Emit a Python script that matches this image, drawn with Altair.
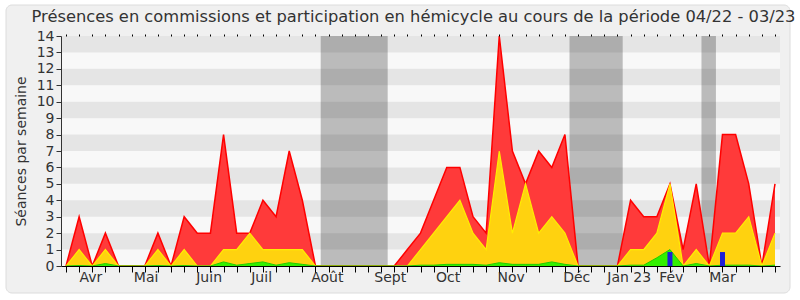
import altair as alt
import pandas as pd

# ---- data (weekly index 0..54, period 04/22 - 03/23) ----
weeks = list(range(55))
commissions = [0, 3, 0, 2, 0, 0, 0, 2, 0, 3, 2, 2, 8, 2, 2, 4, 3, 7, 4, 0,
               0, 0, 0, 0, 0,
               0, 1, 2, 4, 6, 6, 3, 2, 14, 7, 5, 7, 6, 8, 0,
               0, 0, 0, 4, 3, 3, 5, 1, 5, 0, 8, 8, 5, 0, 5]
hemicycle = [0, 1, 0, 1, 0, 0, 0, 1, 0, 1, 0, 0, 1, 1, 2, 1, 1, 1, 1, 0,
             0, 0, 0, 0, 0,
             0, 0, 1, 2, 3, 4, 2, 1, 7, 2, 5, 2, 3, 2, 0,
             0, 0, 0, 1, 1, 2, 5, 0, 1, 0, 2, 2, 3, 0, 2]
interventions = [0, 0.03, 0, 0.15, 0, 0, 0, 0.03, 0, 0.03, 0, 0, 0.25, 0.05, 0.15, 0.25, 0.05, 0.2, 0.1, 0,
                 0, 0, 0, 0, 0,
                 0, 0, 0.05, 0.05, 0.1, 0.1, 0.1, 0.05, 0.2, 0.1, 0.1, 0.1, 0.25, 0.1, 0,
                 0, 0, 0, 0.05, 0.05, 0.5, 1.0, 0, 0.15, 0, 0.05, 0.05, 0.05, 0, 0.05]
question_weeks = [46, 50]
question_values = [0.85, 0.85]

vacation_start = [19.4, 38.35, 48.4]
vacation_end = [24.5, 42.4, 49.5]

month_labels = ["Avr", "Mai", "Juin", "Juil", "Août", "Sept", "Oct", "Nov", "Déc", "Jan 23", "Fév", "Mar"]
month_pos = [1.9, 6.1, 10.9, 14.9, 19.9, 24.7, 29.1, 33.9, 38.9, 42.9, 46.1, 50.0]

stripe_low = [1, 3, 5, 7, 9, 11, 13]
y_ticks = list(range(15))

W, H = 719, 230
FONT = "DejaVu Sans"
TXT = "#333333"

df = pd.DataFrame({"week": weeks, "com": commissions, "hemi": hemicycle, "inter": interventions})
bands = pd.DataFrame({"start": vacation_start, "end": vacation_end})
stripes = pd.DataFrame({"lo": stripe_low, "hi": [v + 1 for v in stripe_low]})
months = pd.DataFrame({"pos": month_pos, "label": month_labels})
questions = pd.DataFrame({"week": question_weeks, "val": question_values})

xscale = alt.Scale(domain=[0, 54], nice=False, zero=False)
yscale = alt.Scale(domain=[0, 14], nice=False)

yaxis = alt.Axis(values=y_ticks, tickSize=5, labelFontSize=14, labelFont=FONT,
                 labelColor=TXT, labelPadding=2, labelOverlap=False,
                 domainColor="#333333", tickColor="#333333", grid=False, zindex=1,
                 title="Séances par semaine", titleFont=FONT, titleFontSize=14,
                 titleFontWeight="normal", titleColor=TXT, titlePadding=8)

# decorative frame & plot background
frame = alt.Chart(pd.DataFrame({"k": [0]})).mark_rect(
    fill="#f0f0f0", stroke="#dcdcdc", strokeWidth=1, cornerRadius=6, clip=False
).encode(x=alt.value(-55), x2=alt.value(W + 10), y=alt.value(-31), y2=alt.value(H + 27))

plotbg = alt.Chart(pd.DataFrame({"k": [0]})).mark_rect(fill="#f8f8f8").encode(
    x=alt.value(0), x2=alt.value(W), y=alt.value(0), y2=alt.value(H))

band_layer = alt.Chart(bands).mark_rect(fill="#bbbbbb").encode(
    x=alt.X("start:Q", scale=xscale,
            axis=alt.Axis(orient="top", values=weeks, labels=False, domain=False,
                          tickSize=2, tickColor="#000000", tickWidth=1, grid=False, title=None,
                          zindex=1)),
    x2="end:Q",
    y=alt.value(0), y2=alt.value(H))

stripe_layer = alt.Chart(stripes).mark_rect(fill="#000000", opacity=0.073).encode(
    x=alt.value(0), x2=alt.value(W),
    y=alt.Y("lo:Q", scale=yscale, axis=yaxis),
    y2="hi:Q")

red = alt.Chart(df).mark_area(
    color="#ff3a3a", opacity=1, interpolate="linear",
    line={"color": "#ff0000", "strokeWidth": 1.5}
).encode(
    x=alt.X("week:Q", scale=xscale,
            axis=alt.Axis(orient="bottom", values=weeks, labels=False, tickSize=6,
                          domainColor="#000000", tickColor="#000000", grid=False, title=None,
                          zindex=1)),
    y=alt.Y("com:Q", scale=yscale, stack=None, axis=yaxis))

yellow = alt.Chart(df).mark_area(
    color="#ffd20f", opacity=1, interpolate="linear",
    line={"color": "#ffee00", "strokeWidth": 1.2}
).encode(
    x=alt.X("week:Q", scale=xscale, axis=None),
    y=alt.Y("hemi:Q", scale=yscale, stack=None, axis=yaxis))

green = alt.Chart(df).mark_area(
    color="#33f000", opacity=1, interpolate="linear",
    line={"color": "#22cc00", "strokeWidth": 1}
).encode(
    x=alt.X("week:Q", scale=xscale, axis=None),
    y=alt.Y("inter:Q", scale=yscale, stack=None, axis=yaxis))

blue = alt.Chart(questions).mark_bar(color="#1f1fd6", size=5).encode(
    x=alt.X("week:Q", scale=xscale, axis=None),
    y=alt.Y("val:Q", scale=yscale, axis=yaxis))

month_text = alt.Chart(months).mark_text(
    fontSize=14, font=FONT, color=TXT, baseline="middle", align="center"
).encode(
    x=alt.X("pos:Q", scale=xscale, axis=None),
    y=alt.value(H + 12),
    text="label:N")

chart = alt.layer(
    frame, plotbg, band_layer, stripe_layer, red, yellow, green, blue, month_text
).resolve_axis(x="independent").properties(
    width=W, height=H,
    title=alt.TitleParams(
        "Présences en commissions et participation en hémicycle au cours de la période 04/22 - 03/23",
        fontSize=16.3, font=FONT, fontWeight="normal", color=TXT, anchor="middle", offset=-21, dx=-7,
        frame="group"),
    autosize=alt.AutoSizeParams(type="none"),
    padding={"left": 61, "top": 36, "right": 20, "bottom": 34},
    background="white",
).configure_view(strokeWidth=0)

chart.save("out.html", embed_options={"renderer": "svg", "actions": False})
